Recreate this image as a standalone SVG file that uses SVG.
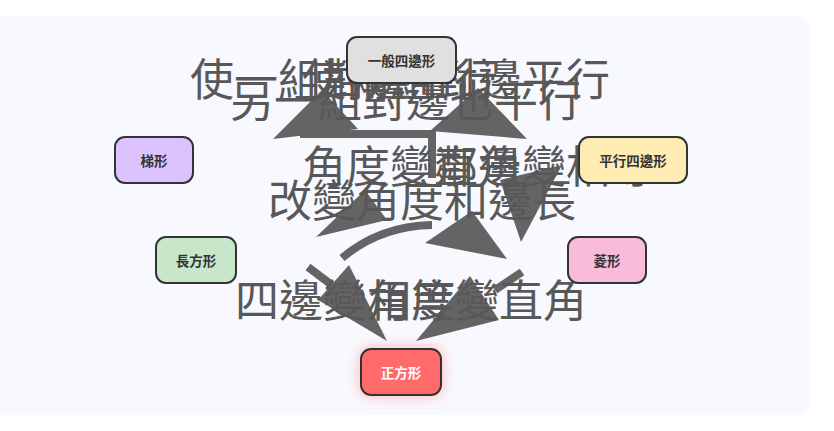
<svg xmlns="http://www.w3.org/2000/svg" width="834" height="431" viewBox="0 0 834 431">
<defs>
<style>
.panel{fill:#f8f9fe}
.node rect{stroke:#333333;stroke-width:2}
.node text{font-family:"Noto Sans CJK TC","Noto Sans CJK SC",sans-serif;font-size:13.5px;font-weight:700;fill:#333333;text-anchor:middle;dominant-baseline:central}
.shaft{fill:none;stroke:#646464;stroke-width:8}
.head{fill:#646464}
.elabel{font-family:"Noto Sans CJK TC","Noto Sans CJK SC",sans-serif;font-size:44px;fill:#585858;text-anchor:middle}
</style>
<filter id="glow" x="-50%" y="-50%" width="200%" height="200%">
<feDropShadow dx="0" dy="0" stdDeviation="7" flood-color="#ff6b6b" flood-opacity="0.5"/>
</filter>
</defs>
<rect x="0" y="0" width="834" height="431" fill="#ffffff"/>
<rect class="panel" x="-20" y="16" width="830" height="399" rx="12"/>
<g id="connectors">
<path class="shaft" d="M300,134 H432 V178"/>
<polygon class="head" points="273,139 322,90 358,129"/>
<polygon class="head" points="527,139 478,88 430,131"/>
<polygon class="head" points="500,180 562,165 521,242"/>
<path class="shaft" d="M342,258 Q380,226 432,225"/>
<polygon class="head" points="316,237 365,190 387,220"/>
<polygon class="head" points="425,243 472,211 507,259"/>
<path class="shaft" d="M308,267 L345,295"/>
<polygon class="head" points="349,265 318,300 387,341"/>
<path class="shaft" d="M522,272 L495,290"/>
<polygon class="head" points="470,276 499,320 416,341"/>
</g>
<g id="edge-labels">
<text class="elabel" x="344" y="96">使一組對邊平行</text>
<text class="elabel" x="456" y="96">使兩組對邊平行</text>
<text class="elabel" x="406" y="117">另一組對邊也平行</text>
<text class="elabel" x="412" y="183">角度變直角</text>
<text class="elabel" x="544" y="183">鄰邊變相等</text>
<text class="elabel" x="422" y="217">改變角度和邊長</text>
<text class="elabel" x="345" y="317">四邊變相等</text>
<text class="elabel" x="477" y="317">角度變直角</text>
</g>
<g id="node-general" class="node">
<rect x="347" y="37" width="109" height="46" rx="10" fill="#e0e0e0"/>
<text x="401.5" y="60">一般四邊形</text>
</g>
<g id="node-trapezoid" class="node">
<rect x="115" y="137" width="78" height="46" rx="10" fill="#dcc2ff"/>
<text x="154" y="160">梯形</text>
</g>
<g id="node-parallelogram" class="node">
<rect x="579" y="137" width="108" height="46" rx="10" fill="#ffecb3"/>
<text x="633" y="160">平行四邊形</text>
</g>
<g id="node-rectangle" class="node">
<rect x="156" y="237" width="80" height="46" rx="10" fill="#c8e6c9"/>
<text x="196" y="260">長方形</text>
</g>
<g id="node-rhombus" class="node">
<rect x="568" y="237" width="78" height="46" rx="10" fill="#f8bbd9"/>
<text x="607" y="260">菱形</text>
</g>
<g id="node-square" class="node">
<rect x="361" y="349" width="80" height="46" rx="10" fill="#ff6b6b" filter="url(#glow)"/>
<text x="401" y="372" style="fill:#ffffff">正方形</text>
</g>
</svg>
